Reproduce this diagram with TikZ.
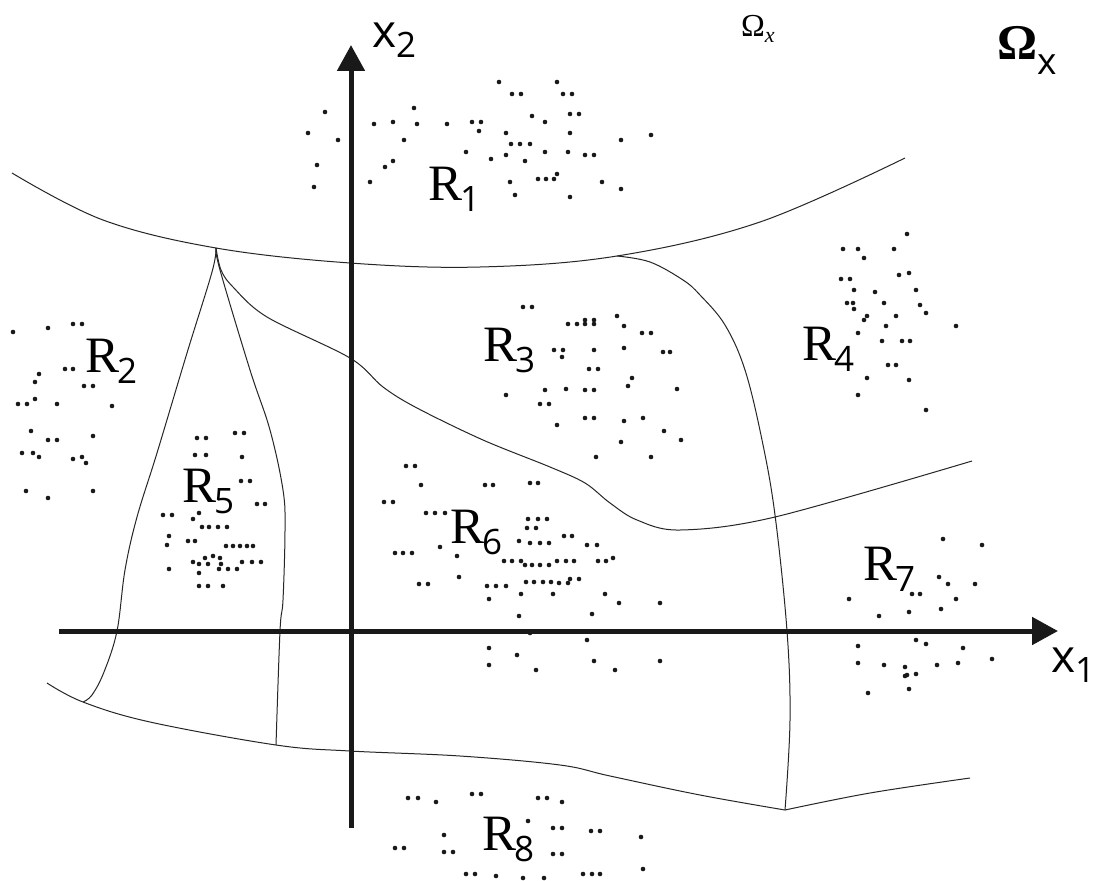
\documentclass[tikz,border=0pt]{standalone}
\usepackage{fontspec}
\newfontfamily\subsans{Open Sans}
\newfontfamily\rserif{Liberation Serif}
\usetikzlibrary{arrows.meta}
\newcommand\Rlab[1]{{\rserif\fontsize{51}{51}\selectfont R}\kern-2pt\raisebox{-11pt}{\subsans\fontsize{35}{35}\selectfont #1}}
\newcommand\Xlab[1]{{\subsans\fontsize{46}{46}\selectfont x}\raisebox{-10pt}{\subsans\fontsize{35}{35}\selectfont #1}}
\begin{document}
\begin{tikzpicture}[x=1pt,y=-1pt,
  boundary/.style={line width=1pt,black!85},
  axis/.style={line width=5pt,black!90,-{Triangle[length=26pt,width=27pt]}},
  lab/.style={anchor=base west,inner sep=0pt,outer sep=0pt},
  dot/.style={fill=black!90}]
\useasboundingbox (0,0) rectangle (1099,880);
\fill[white] (0,0) rectangle (1099,880);

\coordinate (J1) at (216,248);
\coordinate (J2) at (617,256);
\coordinate (J3) at (83,702);
\coordinate (J4) at (276,745);
\coordinate (J5) at (785,810);

% top boundary
\draw[boundary] plot[smooth,tension=0.6] coordinates {(12,173) (103,220) (J1) (350,263) (480,267) (J2) (760,222) (905,158)};
% boundary R3 / R6
\draw[boundary] plot[smooth,tension=0.55] coordinates {(J1) (221,270) (233,287) (267,317) (350,358) (383,387) (417,408) (483,440) (550,467) (585,483) (610,503) (637,520) (680,530) (775,517) (972,461)};
% left branch of lens
\draw[boundary] plot[smooth,tension=0.6] coordinates {(J1) (212,272) (187,353) (157,453) (137,517) (125,570) (117,631) (104,672) (92,695) (J3)};
% right branch of lens
\draw[boundary] plot[smooth,tension=0.6] coordinates {(J1) (220,270) (250,370) (270,430) (283,490) (285,530) (283,600) (280,631) (J4)};
% bottom boundary
\draw[boundary] plot[smooth,tension=0.6] coordinates {(47,683) (J3) (150,722) (J4) (350,751) (460,756) (560,765) (610,776) (700,795) (J5)};
\draw[boundary] plot[smooth,tension=0.6] coordinates {(J5) (870,793) (970,778)};
% right vertical boundary
\draw[boundary] plot[smooth,tension=0.6] coordinates {(J2) (650,262) (683,280) (700,295) (725,325) (745,370) (762,440) (775,515) (787,631) (790,720) (J5)};

% axes
\coordinate (Yb) at (351,828);
\coordinate (Yt) at (351,45);
\coordinate (Xl) at (59,631);
\coordinate (Xr) at (1058,631);
\draw[axis] (Yb) -- (Yt);
\draw[axis] (Xl) -- (Xr);

% dots
\foreach \p in {
(308,133),(325,112),(338,140),(317,165),(314,187),(374,124),(393,122),(414,108),(417,124),(404,140),(393,161),(385,167),(370,182),(447,124),(472,122),(481,122),(479,131),(466,152),(491,159),(499,82),(512,94),(521,94),(532,116),(545,122),(506,133),(511,144),(520,144),(530,144),(506,155),(525,161),(545,152),(510,182),(515,195),(538,179),(546,179),(554,179),(557,174),(557,82),(563,94),(572,94),(570,114),(579,114),(570,133),(568,152),(585,155),(594,155),(570,197),(602,182),(621,140),(621,189),(651,135),
(13,332),(48,328),(73,324),(82,324),(65,369),(73,369),(39,374),(35,382),(84,386),(93,386),(18,404),(27,404),(35,399),(57,404),(112,406),(31,431),(48,440),(57,440),(93,436),(22,453),(33,453),(39,457),(73,459),(82,457),(86,463),(26,491),(48,498),(93,491),
(197,438),(206,438),(235,433),(244,433),(195,455),(206,455),(242,457),(241,481),(250,481),(257,504),(265,504),(163,515),(172,515),(193,519),(199,513),(202,527),(209,527),(218,527),(227,527),(169,536),(167,545),(188,541),(195,541),(226,546),(233,546),(240,546),(247,546),(253,546),(193,562),(199,564),(205,558),(208,564),(213,556),(220,558),(221,564),(219,569),(228,569),(237,569),(242,562),(252,562),(261,562),(169,569),(199,573),(199,586),(208,586),(223,586),
(523,307),(532,307),(568,324),(577,324),(585,320),(585,324),(594,320),(594,324),(617,316),(624,326),(642,333),(651,333),(554,350),(563,350),(562,357),(594,350),(624,348),(663,352),(670,352),(589,369),(598,369),(632,378),(628,386),(506,395),(545,390),(566,389),(585,390),(594,390),(677,389),(540,404),(549,404),(557,425),(585,418),(594,418),(624,421),(643,418),(664,431),(681,440),(621,442),(596,457),(651,457),(406,466),(415,466),
(907,234),(843,249),(858,249),(894,249),(864,258),(841,279),(850,279),(899,275),(909,273),(854,290),(875,292),(916,290),(847,303),(853,303),(854,309),(884,303),(920,305),(926,313),(867,316),(864,320),(896,316),(886,326),(956,326),(858,333),(882,341),(902,341),(910,341),(888,365),(896,365),(867,378),(909,380),(858,395),(926,410),
(421,485),(485,485),(493,485),(530,483),(538,483),(384,502),(393,502),(426,513),(435,513),(445,513),(528,519),(538,519),(547,519),(527,528),(536,528),(440,547),(457,556),(519,541),(530,543),(540,543),(549,543),(564,536),(572,536),(587,545),(597,545),(395,553),(403,553),(412,553),(504,561),(512,561),(521,561),(525,565),(532,565),(540,565),(549,565),(557,561),(566,561),(574,561),(598,561),(606,561),(613,558),(459,577),(419,584),(428,584),(487,586),(496,586),(506,586),(526,582),(534,582),(543,582),(551,582),(559,583),(568,583),(570,579),(579,579),(489,599),(521,594),(553,594),(605,594),(619,603),(660,603),(519,616),(592,614),(530,633),(587,640),(489,648),(517,655),(489,665),(536,670),(594,661),(615,670),(660,661),
(943,539),(982,545),(939,577),(948,584),(975,584),(912,594),(920,594),(849,599),(956,599),(941,609),(909,612),(879,616),(916,640),(926,644),(963,648),(858,646),(858,663),(884,665),(905,667),(937,665),(958,663),(992,659),(905,676),(907,675),(916,674),(909,689),(868,693),
(408,798),(418,798),(436,802),(472,794),(481,794),(538,798),(547,798),(562,802),(528,821),(553,828),(562,828),(591,831),(600,831),(641,837),(444,835),(395,848),(404,848),(444,852),(453,852),(553,854),(562,854),(643,869),(466,874),(475,874),(496,876),(523,878),(544,878),(583,874),(592,874),(600,874)
}{\fill[dot] \p circle (2.3);}

% labels
\node[lab] (r1) at (428,200) {\Rlab{1}};
\node[lab] (r2) at (85,372) {\Rlab{2}};
\node[lab] (r3) at (483,361) {\Rlab{3}};
\node[lab] (r4) at (802,360) {\Rlab{4}};
\node[lab] (r5) at (182,502) {\Rlab{5}};
\node[lab] (r6) at (450,543) {\Rlab{6}};
\node[lab] (r7) at (863,580) {\Rlab{7}};
\node[lab] (r8) at (482,850) {\Rlab{8}};
\node[lab] (x2) at (372,48) {\Xlab{2}};
\node[lab] (x1) at (1051,672) {\Xlab{1}};
\node[lab] (om) at (741,37) {{\rserif\fontsize{32}{32}\selectfont Ω}\raisebox{-6pt}{\rserif\itshape\fontsize{22}{22}\selectfont x}};
\node[lab] (omb) at (997,60) {{\rserif\bfseries\fontsize{50}{50}\selectfont Ω}\raisebox{-15pt}{\subsans\fontsize{37}{37}\selectfont x}};
\end{tikzpicture}
\end{document}
